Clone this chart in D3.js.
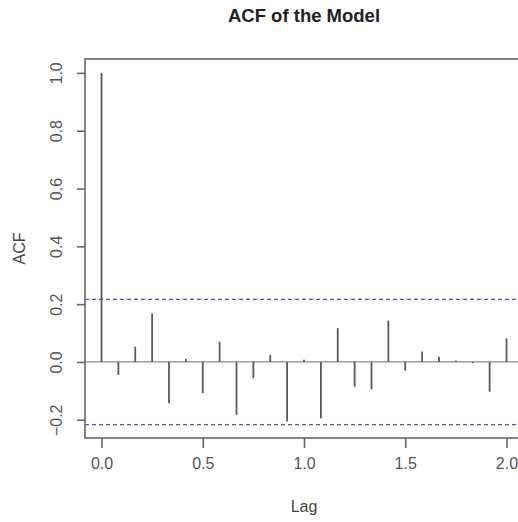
<!DOCTYPE html>
<html>
<head>
<meta charset="utf-8">
<script src="https://cdn.jsdelivr.net/npm/d3@7"></script>
<style>
  html, body { margin: 0; padding: 0; background: #fff; }
  svg { display: block; }
  text { font-family: "Liberation Sans", Arial, sans-serif; }
</style>
</head>
<body>
<svg id="chart" width="518" height="522"></svg>
<script>
// ---- data ----
const lags = [0, 1, 2, 3, 4, 5, 6, 7, 8, 9, 10, 11, 12, 13, 14, 15, 16, 17, 18, 19, 20, 21, 22, 23, 24];
const frequency = 12;
const acfValues = [1.0, -0.045, 0.053, 0.168, -0.143, 0.01, -0.108, 0.07, -0.183, -0.056, 0.024, -0.206,
                   0.008, -0.195, 0.117, -0.085, -0.095, 0.143, -0.03, 0.036, 0.018, 0.005, -0.004, -0.103, 0.082];
const ciLimit = 0.2165;
const xTicks = [0.0, 0.5, 1.0, 1.5, 2.0];
const yTicks = [-0.2, 0.0, 0.2, 0.4, 0.6, 0.8, 1.0];
const titleText = "ACF of the Model";
const xLabel = "Lag";
const yLabel = "ACF";

// ---- layout ----
const svg = d3.select("#chart");
const pL = 85, pR = 523, pT = 59, pB = 438;
const x = d3.scaleLinear().domain([-0.0815, 2.0815]).range([pL, pR]);
const y = d3.scaleLinear().domain([-0.263, 1.048]).range([pB, pT]);

const ink = "#5a5a5a";

// zero line
svg.append("line")
  .attr("x1", pL).attr("x2", pR)
  .attr("y1", y(0)).attr("y2", y(0))
  .attr("stroke", "#8a8a8a").attr("stroke-width", 1.3);

// confidence lines
[ciLimit, -ciLimit].forEach(v => {
  svg.append("line")
    .attr("x1", pL).attr("x2", pR)
    .attr("y1", y(v)).attr("y2", y(v))
    .attr("stroke", "#5050c8").attr("stroke-width", 1.3)
    .attr("stroke-dasharray", "4,3");
});

// spikes
svg.append("g").selectAll("line")
  .data(lags.map((l, i) => ({lag: l / frequency, v: acfValues[i]})))
  .join("line")
  .attr("x1", d => x(d.lag)).attr("x2", d => x(d.lag))
  .attr("y1", y(0)).attr("y2", d => y(d.v))
  .attr("stroke", ink).attr("stroke-width", 1.8);

// box
svg.append("rect")
  .attr("x", pL).attr("y", pT)
  .attr("width", pR - pL).attr("height", pB - pT)
  .attr("fill", "none").attr("stroke", "#666").attr("stroke-width", 1.6);

// x axis
const xAxis = d3.axisBottom(x).tickValues(xTicks).tickFormat(d3.format(".1f"))
  .tickSize(10).tickPadding(10);
const gx = svg.append("g").attr("transform", `translate(0,${pB})`).call(xAxis);
gx.select(".domain").remove();
gx.selectAll(".tick line").attr("stroke", "#666").attr("stroke-width", 1.6);
gx.selectAll(".tick text").attr("font-size", 16).attr("fill", "#555")
  .attr("font-family", "'Liberation Sans', Arial, sans-serif");

// y axis
const yAxis = d3.axisLeft(y).tickValues(yTicks).tickFormat(d3.format(".1f")).tickSize(8);
const gy = svg.append("g").attr("transform", `translate(${pL},0)`).call(yAxis);
gy.select(".domain").remove();
gy.selectAll(".tick line").attr("stroke", "#666").attr("stroke-width", 1.6);
gy.selectAll(".tick text")
  .attr("font-size", 16).attr("fill", "#555")
  .attr("font-family", "'Liberation Sans', Arial, sans-serif")
  .attr("x", null).attr("dy", null)
  .attr("text-anchor", "middle")
  .attr("transform", "translate(-23,0) rotate(-90)")
  .attr("y", 0);

// title
svg.append("text")
  .attr("x", (pL + pR) / 2).attr("y", 22)
  .attr("text-anchor", "middle")
  .attr("font-size", 18.5).attr("font-weight", "bold").attr("fill", "#222")
  .text(titleText);

// x label
svg.append("text")
  .attr("x", (pL + pR) / 2).attr("y", 512)
  .attr("text-anchor", "middle")
  .attr("font-size", 16).attr("fill", "#444")
  .text(xLabel);

// y label
svg.append("text")
  .attr("transform", `translate(25,${(pT + pB) / 2}) rotate(-90)`)
  .attr("text-anchor", "middle")
  .attr("font-size", 16).attr("fill", "#444")
  .text(yLabel);
</script>
</body>
</html>
